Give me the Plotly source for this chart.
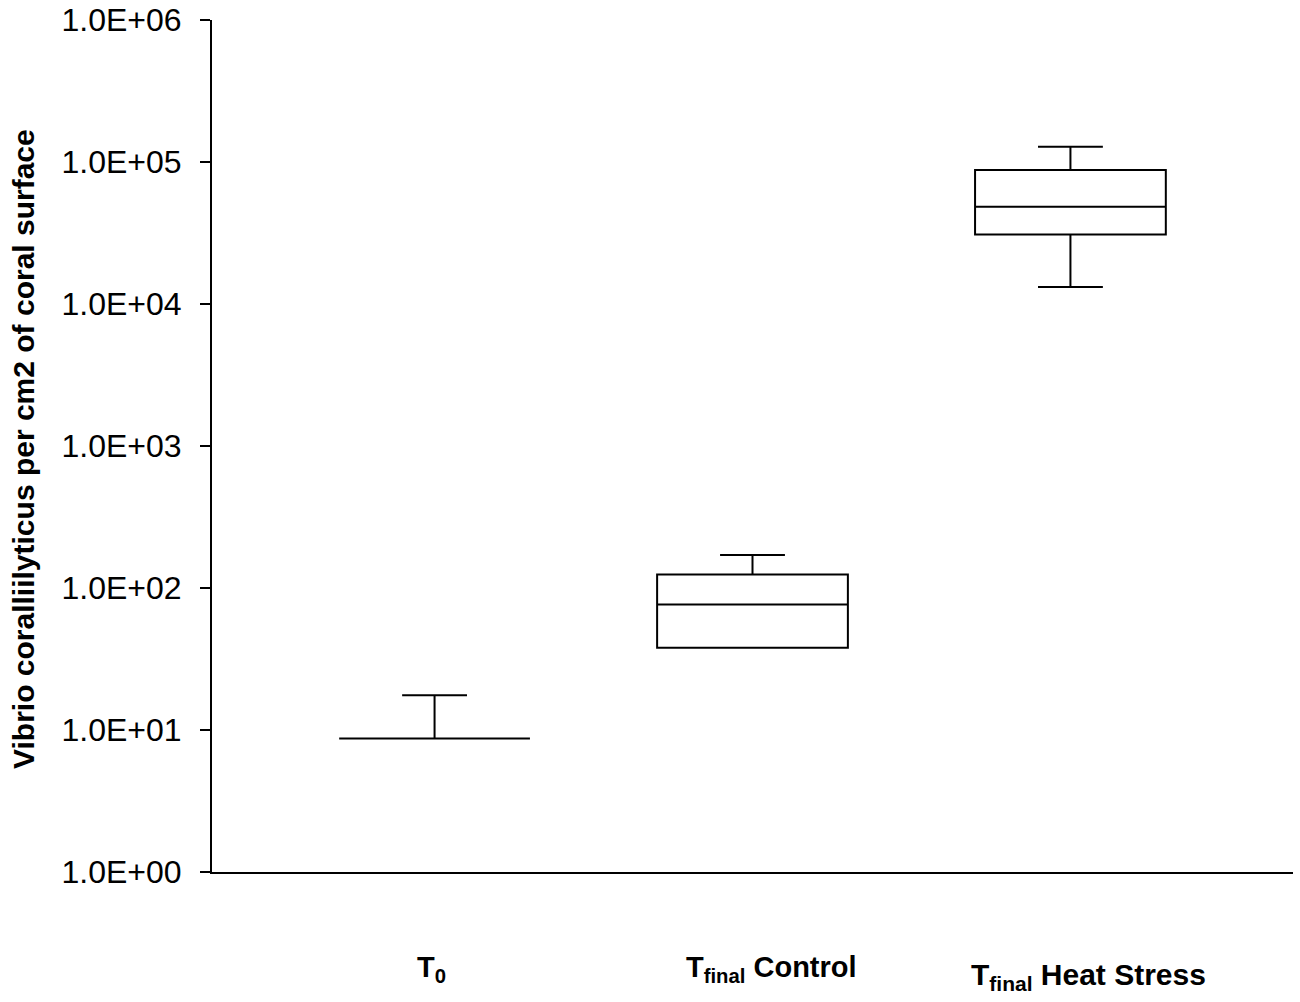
import plotly.graph_objects as go

categories = ["T<sub>0</sub>", "T<sub>final</sub> Control", "T<sub>final</sub> Heat Stress"]
positions = [0, 1, 2]
q1 = [8.73, 38.0, 30900]
median = [8.73, 76.4, 48400]
q3 = [8.73, 124.3, 87900]
lowerfence = [8.73, 38.0, 13150]
upperfence = [17.6, 171.0, 128200]

tick_vals = [1, 10, 100, 1000, 10000, 100000, 1000000]
tick_text = ["1.0E+00", "1.0E+01", "1.0E+02", "1.0E+03", "1.0E+04", "1.0E+05", "1.0E+06"]

FONT = "Liberation Sans, Arial, sans-serif"

fig = go.Figure()
for i in range(len(positions)):
    fig.add_trace(go.Box(
        x=[positions[i]], q1=[q1[i]], median=[median[i]], q3=[q3[i]],
        lowerfence=[lowerfence[i]], upperfence=[upperfence[i]],
        width=0.6, whiskerwidth=0.34, boxpoints=False,
        line=dict(color="black", width=2), fillcolor="rgba(255,255,255,0)",
        showlegend=False, hoverinfo="skip",
    ))

fig.update_layout(
    width=1300, height=1002, autosize=False,
    margin=dict(l=212, r=7, t=20, b=130),
    paper_bgcolor="white", plot_bgcolor="white",
    font=dict(family=FONT, color="black"),
    xaxis=dict(range=[-0.70, 2.70], showgrid=False, zeroline=False,
               showline=True, linecolor="black", linewidth=2,
               showticklabels=False, ticks="", automargin=False),
    yaxis=dict(type="log", range=[0, 6], showgrid=False, zeroline=False,
               showline=True, linecolor="black", linewidth=2,
               ticks="outside", ticklen=10, tickwidth=2, tickcolor="black",
               tickvals=tick_vals, ticktext=tick_text,
               tickfont=dict(size=32, family=FONT, color="black"),
               ticklabelstandoff=12, ticklabeloverflow="allow",
               automargin=False),
)

label_xshift = [-3, 19, 18]
label_yshift = [-97, -97, -104]
label_size = [29, 29, 30]
for i, lab in enumerate(categories):
    fig.add_annotation(x=positions[i], y=0, xref="x", yref="paper",
                       text="<b>" + lab + "</b>", showarrow=False,
                       xanchor="center", yanchor="middle",
                       xshift=label_xshift[i], yshift=label_yshift[i],
                       font=dict(size=label_size[i], family=FONT, color="black"))

fig.add_annotation(x=0, y=0.4965, xref="paper", yref="paper",
                   text="<b>Vibrio coralliilyticus per cm2 of coral surface</b>",
                   textangle=-90, showarrow=False, xanchor="center", yanchor="middle",
                   xshift=-188, borderpad=0,
                   font=dict(size=30, family=FONT, color="black"))

fig.write_html("out.html", config={"displayModeBar": False},
               post_script="document.body.style.margin='0';document.body.style.overflow='hidden';")
